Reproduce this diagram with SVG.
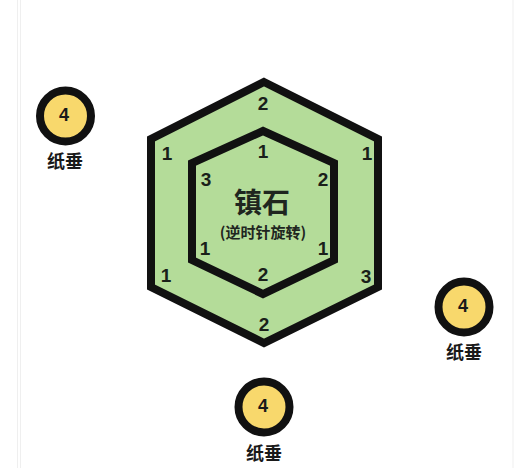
<svg xmlns="http://www.w3.org/2000/svg" width="532" height="468" viewBox="0 0 532 468">
<style>
.hex{fill:#b4dc99;stroke:#111;stroke-width:8;stroke-linejoin:miter}
.num{font-family:"Liberation Sans","Noto Sans",sans-serif;font-weight:bold;font-size:19px;fill:#1a1f1a;text-anchor:middle;dominant-baseline:central}
.pin{fill:#f8d86c;stroke:#111;stroke-width:8}
.pnum{font-family:"Liberation Sans","Noto Sans",sans-serif;font-weight:bold;font-size:18px;fill:#1a1a1a;text-anchor:middle;dominant-baseline:central}
.lbl{font-family:"Noto Sans CJK SC","Noto Sans",sans-serif;font-weight:bold;font-size:18px;fill:#1a1a1a;text-anchor:middle;dominant-baseline:central}
.title{font-family:"Noto Sans CJK SC","Noto Sans",sans-serif;font-weight:bold;fill:#1f261f;text-anchor:middle;dominant-baseline:central}
.edge{stroke:#efefef;stroke-width:1}
</style>
<rect width="532" height="468" fill="#ffffff"/>
<line class="edge" x1="17.5" y1="0" x2="17.5" y2="468"/>
<line class="edge" x1="20.5" y1="0" x2="20.5" y2="468"/>
<line class="edge" x1="513" y1="0" x2="513" y2="468"/>
<g id="stone">
<polygon class="hex" points="264,82 378,139 378,287 264,343 151,287 151,139"/>
<polygon class="hex" points="263,131 334,163 334,260 263,294 192,260 192,163"/>
<text class="num" x="263" y="103">2</text>
<text class="num" x="167" y="153">1</text>
<text class="num" x="367" y="153">1</text>
<text class="num" x="166" y="275">1</text>
<text class="num" x="366" y="276">3</text>
<text class="num" x="264" y="324">2</text>
<text class="num" x="263" y="151">1</text>
<text class="num" x="206" y="179">3</text>
<text class="num" x="323" y="179">2</text>
<text class="num" x="205" y="248">1</text>
<text class="num" x="323" y="248">1</text>
<text class="num" x="263" y="274">2</text>
<text class="title" x="262" y="201" font-size="28">镇石</text>
<text class="title" x="263" y="231" font-size="15">(逆时针旋转)</text>
</g>
<g id="weight-left">
<circle class="pin" cx="65.5" cy="116" r="25.5"/>
<text class="pnum" x="64" y="115">4</text>
<text class="lbl" x="65" y="160">纸垂</text>
</g>
<g id="weight-right">
<circle class="pin" cx="464" cy="307" r="25.5"/>
<text class="pnum" x="463" y="306">4</text>
<text class="lbl" x="464" y="351">纸垂</text>
</g>
<g id="weight-bottom">
<circle class="pin" cx="264" cy="407" r="25.5"/>
<text class="pnum" x="263" y="406">4</text>
<text class="lbl" x="264" y="452">纸垂</text>
</g>
</svg>
